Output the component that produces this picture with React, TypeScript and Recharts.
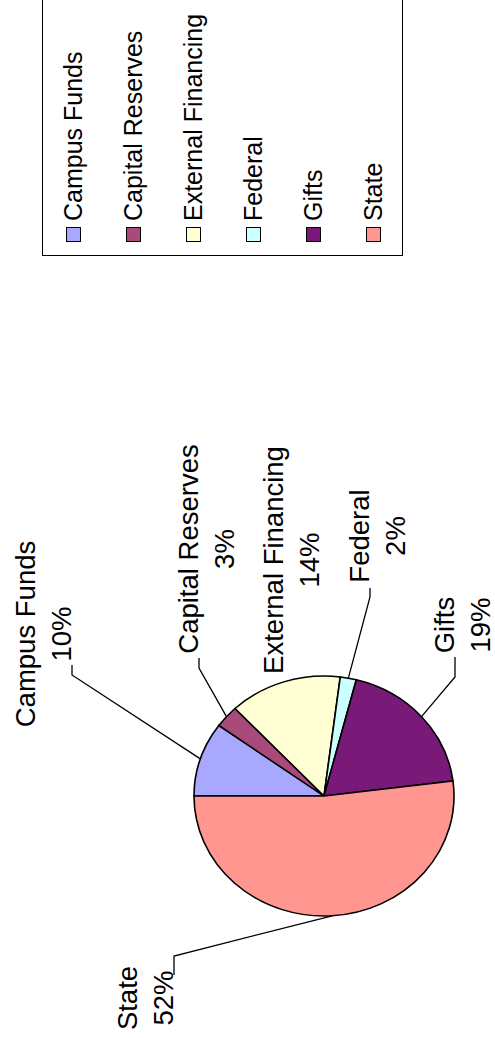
import React from 'react';
import { PieChart, Pie, Cell, Legend } from 'recharts';

const categories = ['Campus Funds', 'Capital Reserves', 'External Financing', 'Federal', 'Gifts', 'State'];
const shares = [10, 3, 14, 2, 19, 52];
const sliceColors = ['#a8a8ff', '#a84b7a', '#ffffd3', '#ccffff', '#7a1a78', '#ff9690'];

const data = categories.map((name, i) => ({ name, value: shares[i] }));

// chart is laid out landscape and then turned a quarter to the left
const W = 1038;
const H = 495;
const CX = 242;
const CY = 324;
const RX = 120;
const RY = 130;
const FONT = '"Liberation Sans", Arial, Helvetica, sans-serif';

// label text spot + leader stub (outer end, elbow), offsets from the pie centre
const labelPos: { tx: number; ty: number; stub: number[] | null }[] = [
  { tx: 162, ty: -289, stub: [131, -252, 121, -252] },
  { tx: 247, ty: -126, stub: [138, -125, 128, -125] },
  { tx: 236, ty: -41, stub: null },
  { tx: 260, ty: 45, stub: [208, 46, 199, 46] },
  { tx: 171, ty: 130, stub: [139, 131, 119, 131] },
  { tx: -202, ty: -187, stub: [-179, -150, -160, -150] },
];

function renderLabel(props: any) {
  const { midAngle, outerRadius, index, percent } = props;
  const cx = props.cx ?? CX;
  const cy = props.cy ?? CY;
  const name = props.name ?? categories[index];
  const rad = (midAngle * Math.PI) / 180;
  // edge of the (elliptical) slice
  const px = cx + outerRadius * Math.cos(rad);
  const py = cy - outerRadius * (RY / RX) * Math.sin(rad);
  const p = labelPos[index];
  const x = cx + p.tx;
  const y = cy + p.ty;
  return (
    <g key={`lbl-${index}`}>
      {p.stub && (
        <polyline
          points={`${cx + p.stub[0]},${cy + p.stub[1]} ${cx + p.stub[2]},${cy + p.stub[3]} ${px},${py}`}
          fill="none"
          stroke="#000"
          strokeWidth={1.3}
        />
      )}
      <text x={x} y={y} textAnchor="middle" fontSize={27.5} fontFamily={FONT} fill="#000">
        <tspan x={x}>{name}</tspan>
        <tspan x={x} dy={36}>{Math.round(percent * 100)}%</tspan>
      </text>
    </g>
  );
}

function LegendBox() {
  return (
    <div
      style={{
        boxSizing: 'border-box',
        width: 300,
        height: 361,
        border: '1px solid #000',
        background: '#fff',
        fontFamily: FONT,
        fontSize: 25,
        color: '#000',
      }}
    >
      {categories.map((c, i) => (
        <div key={c} style={{ height: 60, display: 'flex', alignItems: 'center', paddingLeft: 13 }}>
          <span
            style={{
              display: 'inline-block',
              boxSizing: 'border-box',
              width: 15,
              height: 15,
              background: sliceColors[i],
              border: '1.5px solid #000',
              marginRight: 6,
            }}
          />
          <span style={{ lineHeight: '30px', whiteSpace: 'nowrap' }}>{c}</span>
        </div>
      ))}
    </div>
  );
}

export default function App() {
  return (
    <div style={{ position: 'absolute', left: 0, top: 0, width: 495, height: 1038, overflow: 'hidden', background: '#fff' }}>
      <style>{`.recharts-pie-sector { transform: scale(1, ${RY / RX}); transform-origin: ${CX}px ${CY}px; }`}</style>
      <div
        style={{
          position: 'absolute',
          left: 0,
          top: 0,
          width: W,
          height: H,
          transformOrigin: '0 0',
          transform: `translate(0px, ${W}px) rotate(-90deg)`,
        }}
      >
        <PieChart width={W} height={H} margin={{ top: 0, right: 0, bottom: 0, left: 0 }}>
          <Pie
            data={data}
            dataKey="value"
            nameKey="name"
            cx={CX}
            cy={CY}
            outerRadius={RX}
            startAngle={90}
            endAngle={-270}
            stroke="#000"
            strokeWidth={1.5}
            label={renderLabel}
            labelLine={false}
            isAnimationActive={false}
          >
            {data.map((d, i) => (
              <Cell key={d.name} fill={sliceColors[i]} />
            ))}
          </Pie>
          <Legend
            layout="vertical"
            align="right"
            verticalAlign="middle"
            wrapperStyle={{ left: 782, top: 42, width: 300, height: 361 }}
            content={() => <LegendBox />}
          />
        </PieChart>
      </div>
    </div>
  );
}
